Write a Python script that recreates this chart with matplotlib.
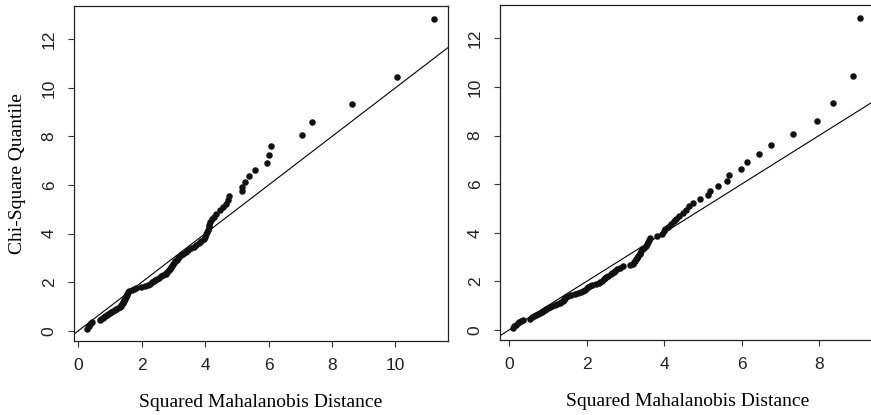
import matplotlib
matplotlib.use("Agg")
import matplotlib.pyplot as plt

# chi-square (df = 3) quantiles at the plotting positions, shared by both panels
chisq_q = [
    0.0717, 0.1516, 0.2158, 0.2731, 0.3264, 0.3769, 0.4253, 0.4722, 0.5179, 0.5626,
    0.6063, 0.6496, 0.6924, 0.7348, 0.7769, 0.8187, 0.8603, 0.9018, 0.9432, 0.9845,
    1.0259, 1.0672, 1.1086, 1.1501, 1.1917, 1.2334, 1.2753, 1.3174, 1.3597, 1.4022,
    1.4451, 1.4882, 1.5316, 1.5753, 1.6194, 1.6639, 1.7087, 1.7540, 1.7997, 1.8459,
    1.8925, 1.9397, 1.9875, 2.0358, 2.0847, 2.1343, 2.1845, 2.2354, 2.2870, 2.3394,
    2.3924, 2.4464, 2.5013, 2.5571, 2.6139, 2.6717, 2.7306, 2.7906, 2.8518, 2.9142,
    2.9778, 3.0429, 3.1094, 3.1775, 3.2472, 3.3186, 3.3919, 3.4671, 3.5443, 3.6238,
    3.7055, 3.7898, 3.8768, 3.9667, 4.0598, 4.1561, 4.2562, 4.3603, 4.4688, 4.5820,
    4.6999, 4.8240, 4.9545, 5.0922, 5.2382, 5.3932, 5.5590, 5.7369, 5.9292, 6.1384,
    6.368, 6.622, 6.905, 7.227, 7.602, 8.049, 8.607, 9.348, 10.465, 12.838,
]

# sorted squared Mahalanobis distances, left panel
d2_left = [
    0.27, 0.30, 0.33, 0.36, 0.39, 0.42, 0.68, 0.72, 0.77, 0.81,
    0.85, 0.89, 0.94, 0.99, 1.04, 1.09, 1.15, 1.20, 1.25, 1.30,
    1.34, 1.36, 1.38, 1.40, 1.42, 1.43, 1.45, 1.46, 1.48, 1.49,
    1.51, 1.53, 1.55, 1.57, 1.60, 1.68, 1.76, 1.82, 1.97, 2.10,
    2.20, 2.27, 2.33, 2.38, 2.43, 2.48, 2.54, 2.60, 2.68, 2.75,
    2.78, 2.82, 2.86, 2.90, 2.93, 2.96, 2.99, 3.02, 3.06, 3.10,
    3.14, 3.19, 3.25, 3.31, 3.39, 3.47, 3.56, 3.64, 3.72, 3.80,
    3.88, 3.95, 4.00, 4.03, 4.06, 4.09, 4.11, 4.13, 4.16, 4.21,
    4.27, 4.35, 4.47, 4.57, 4.65, 4.71, 4.75, 5.15, 5.17, 5.26,
    5.38, 5.57, 5.96, 6.01, 6.09, 7.07, 7.38, 8.62, 10.04, 11.22,
]

# sorted squared Mahalanobis distances, right panel
d2_right = [
    0.10, 0.13, 0.18, 0.22, 0.26, 0.31, 0.37, 0.55, 0.60, 0.65,
    0.70, 0.74, 0.79, 0.84, 0.88, 0.92, 0.96, 1.01, 1.06, 1.12,
    1.18, 1.25, 1.31, 1.35, 1.38, 1.41, 1.43, 1.45, 1.48, 1.53,
    1.60, 1.70, 1.78, 1.85, 1.92, 1.97, 2.01, 2.04, 2.08, 2.13,
    2.25, 2.31, 2.36, 2.40, 2.44, 2.47, 2.50, 2.56, 2.62, 2.66,
    2.70, 2.74, 2.79, 2.86, 2.95, 3.13, 3.20, 3.22, 3.24, 3.27,
    3.31, 3.34, 3.37, 3.39, 3.41, 3.44, 3.48, 3.53, 3.56, 3.59,
    3.62, 3.65, 3.81, 3.96, 3.99, 4.03, 4.09, 4.18, 4.26, 4.32,
    4.38, 4.48, 4.57, 4.65, 4.75, 4.92, 5.14, 5.19, 5.39, 5.63,
    5.67, 5.98, 6.14, 6.45, 6.75, 7.32, 7.95, 8.35, 8.88, 9.07,
]

left_xticks = [0, 2, 4, 6, 8, 10]
right_xticks = [0, 2, 4, 6, 8]
yticks = [0, 2, 4, 6, 8, 10, 12]

serif = "Liberation Serif"
sans = "Liberation Sans"

fig = plt.figure(figsize=(8.71, 4.15), dpi=100)
ax1 = fig.add_axes([0.0850, 0.1790, 0.4290, 0.8065])
ax2 = fig.add_axes([0.5741, 0.1807, 0.4303, 0.8073])


def qq_panel(ax, d2, xlim, xticks):
    ax.scatter(d2, chisq_q, s=22, color="#111111", linewidths=0, zorder=3)
    ax.axline((0, 0), slope=1, color="black", linewidth=0.8, zorder=2)
    ax.set_xlim(*xlim)
    ax.set_ylim(-0.41, 13.37)
    ax.set_xticks(xticks)
    ax.set_yticks(yticks)
    ax.tick_params(direction="out", length=4.5, width=0.8, pad=8,
                   labelsize=12.5, color="#333333")
    ax.tick_params(axis="y", labelrotation=90)
    for lab in ax.get_xticklabels() + ax.get_yticklabels():
        lab.set_fontfamily(sans)
        lab.set_color("#222222")
    for lab in ax.get_yticklabels():
        lab.set_verticalalignment("center")
    for sp in ax.spines.values():
        sp.set_linewidth(0.9)
        sp.set_color("#222222")
    ax.set_xlabel("Squared Mahalanobis Distance", family=serif, fontsize=14,
                  labelpad=15)


qq_panel(ax1, d2_left, (-0.136, 11.65), left_xticks)
qq_panel(ax2, d2_right, (-0.232, 9.44), right_xticks)
ax1.set_ylabel("Chi-Square Quantile", family=serif, fontsize=14, labelpad=11)

fig.savefig("out.png", dpi=100)
